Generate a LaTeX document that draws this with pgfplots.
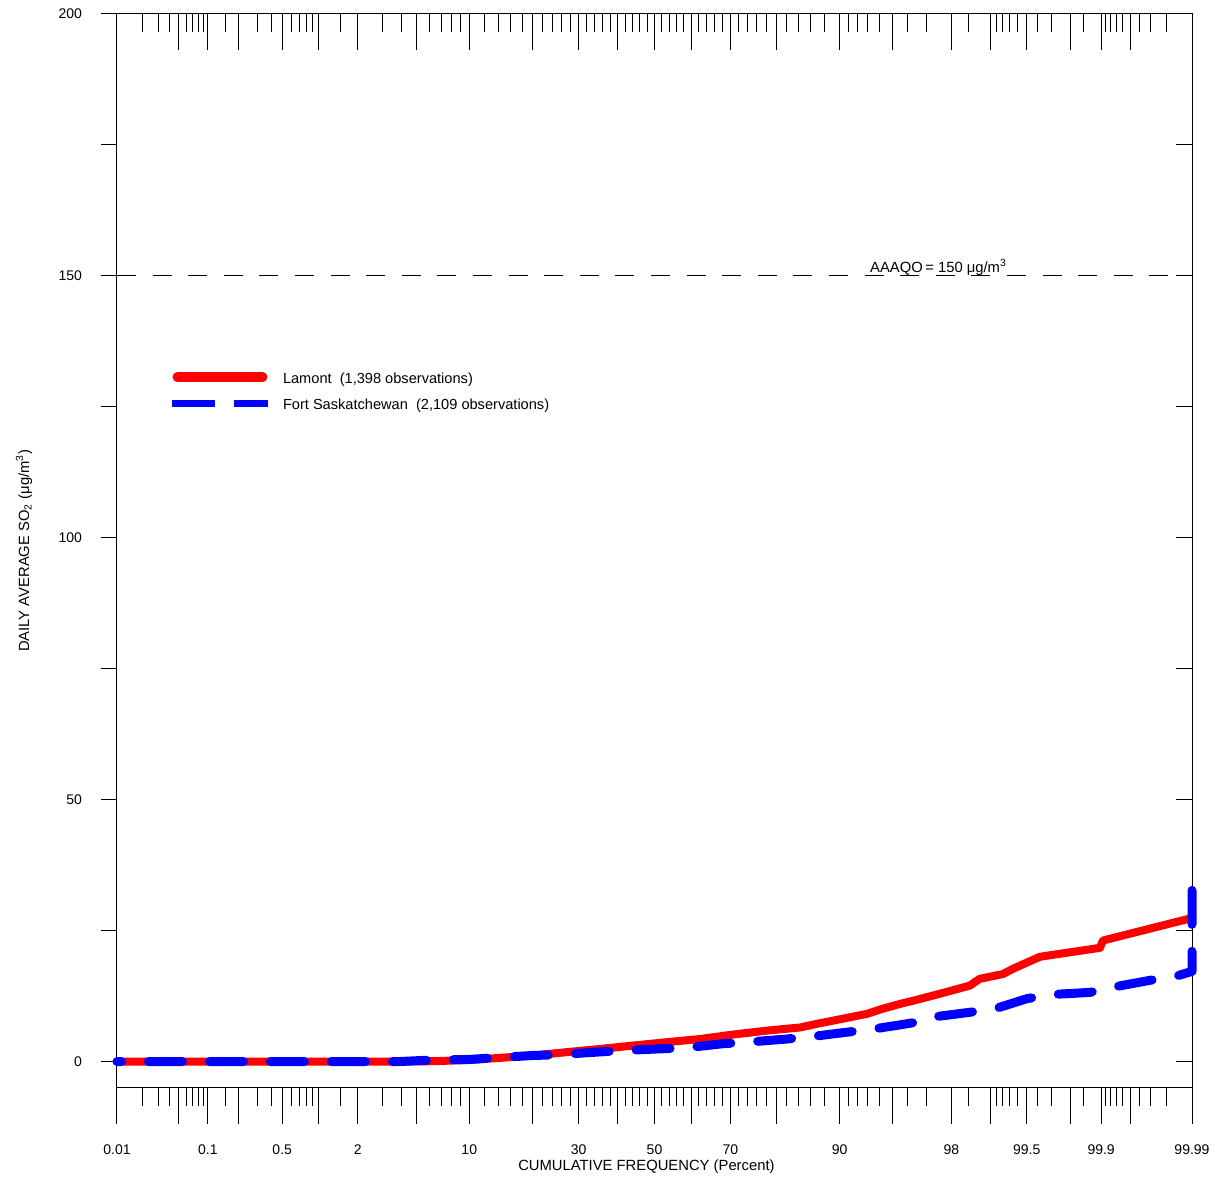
\documentclass[border=0pt]{standalone}
\usepackage{fontspec}
\setmainfont{Liberation Sans}
\usepackage{pgfplots}
\pgfplotsset{compat=1.18}

\def\majx{-3.7190,-3.2905,-3.0902,-2.8782,-2.5758,-2.3263,-2.0537,-1.6449,-1.2816,-0.8416,-0.5244,-0.2533,0,0.2533,0.5244,0.8416,1.2816,1.6449,2.0537,2.3263,2.5758,2.8782,3.0902,3.2905,3.7190}
\def\minx{-3.5401,-3.4316,-3.3528,-3.2389,-3.1947,-3.1559,-3.1214,-2.9677,-2.7478,-2.6521,-2.5121,-2.4573,-2.4089,-2.3656,-2.1701,-1.8808,-1.7507,-1.5548,-1.4758,-1.4051,-1.3408,-1.1750,-1.0803,-0.9945,-0.9154,-0.7722,-0.7063,-0.6433,-0.5828,-0.4677,-0.4125,-0.3585,-0.3055,-0.2019,-0.1510,-0.1004,-0.0502,0.0502,0.1004,0.1510,0.2019,0.3055,0.3585,0.4125,0.4677,0.5828,0.6433,0.7063,0.7722,0.9154,0.9945,1.0803,1.1750,1.3408,1.4051,1.4758,1.5548,1.7507,1.8808,2.1701,2.3656,2.4089,2.4573,2.5121,2.6521,2.7478,2.9677,3.1214,3.1559,3.1947,3.2389,3.3528,3.4316,3.5401}

\pgfplotsset{
  base/.style={
    scale only axis, width=537.5pt, height=537pt,
    xmin=-3.719, xmax=3.719, ymin=-5, ymax=200,
    axis line style={line width=0.5pt},
    every tick/.style={black, line width=0.5pt},
    ticklabel style={font=\fontsize{7}{8}\selectfont},
  },
  nobox/.style={axis line style={draw=none}},
}

\pgfplotstableread{
z v
-3.719 0
-2.799 0
-1.761 0
-1.533 0.06
-1.277 0.3
-1.069 0.7
-0.841 1.15
-0.605 1.8
-0.377 2.4
-0.149 3.05
0.086 3.7
0.315 4.3
0.543 5.15
0.778 5.9
1.007 6.5
1.124 7.2
1.235 7.8
1.470 9.1
1.581 10.1
1.699 11.0
1.789 11.6
1.955 12.8
2.183 14.5
2.218 15.2
2.252 15.8
2.411 16.7
2.480 17.7
2.667 20.0
3.082 21.7
3.103 23.1
3.705 27.3
3.719 27.4
}\lamont

\pgfplotstableread{
z v
-3.719 0
-1.761 0
-1.533 0.3
-1.277 0.4
-1.069 0.8
-0.841 1.15
-0.675 1.3
-0.398 1.8
-0.218 2.1
0.017 2.4
0.211 2.6
0.474 3.4
0.640 3.7
0.917 4.3
1.097 4.8
1.332 5.6
1.512 6.2
1.699 7.0
1.789 7.4
1.927 8.5
2.183 9.4
2.370 10.2
2.577 12.0
2.757 12.8
3.013 13.2
3.172 14.2
3.428 15.5
3.622 16.4
3.719 17.2
3.719 33.0
}\fortsask

\begin{document}
\begin{tikzpicture}
% top x ticks (inside)
\begin{axis}[base, nobox,
  xtick/.expand once=\majx, minor xtick/.expand once=\minx,
  xtick pos=right, tick align=inside,
  major tick length=18pt, minor tick length=9pt,
  xticklabel=\empty, ytick=\empty]
\end{axis}
% right y ticks (inside)
\begin{axis}[base, nobox,
  xtick=\empty, ytick={0,25,...,200}, yticklabel=\empty,
  ytick pos=right, tick align=inside, major tick length=8pt]
\end{axis}
% left y ticks (outside) with labels
\begin{axis}[base, nobox,
  xtick=\empty, ytick={0,25,...,200},
  yticklabels={0,{},50,{},100,{},150,{},200},
  yticklabel style={xshift=-6pt},
  ytick pos=left, tick align=outside, major tick length=8pt,
  every axis y label/.style={at={(axis description cs:0,0.5)}, xshift=-46.5pt, rotate=90, anchor=center, font=\fontsize{7.4}{9}\selectfont},
  ylabel={DAILY AVERAGE SO\textsubscript{2} (μg/m\textsuperscript{3})}]
\end{axis}
% main axis: bottom x ticks, data, legend
\begin{axis}[base, clip=false,
  xtick/.expand once=\majx, minor xtick/.expand once=\minx,
  xticklabels={0.01,{},0.1,{},0.5,{},2,{},10,{},30,{},50,{},70,{},90,{},98,{},99.5,{},99.9,{},99.99},
  xticklabel style={yshift=-7pt},
  xtick pos=left, tick align=outside,
  major tick length=18pt, minor tick length=9pt,
  ytick=\empty,
  every axis x label/.style={at={(axis description cs:0.4925,0)}, yshift=-39.5pt, anchor=center, font=\fontsize{7.4}{9}\selectfont},
  xlabel={CUMULATIVE FREQUENCY (Percent)},
  legend cell align=left,
  legend style={draw=none, fill=none, at={(axis description cs:0.0521,0.6644)}, anchor=north west,
    xshift=-2pt, yshift=1pt,
    inner sep=0pt, outer sep=0pt, row sep=7pt, column sep=6pt,
    nodes={inner sep=0pt, text height=5.2pt, text depth=0.8pt, font=\fontsize{7.3}{8.5}\selectfont}},
  ]
\addplot[black, line width=0.6pt, dash pattern=on 9.5pt off 8.3pt, forget plot]
  coordinates {(-3.719,150) (3.719,150)};
\addplot[red, line width=4pt, line cap=round, line join=round,
  legend image code/.code={\draw[red, line width=5pt, line cap=round] (2.5pt,0.8pt) -- (45pt,0.8pt);}]
  table[x=z, y=v] {\lamont};
\addlegendentry{Lamont\ \ (1,398 observations)}
\addplot[blue, line width=4.5pt, line cap=round, line join=round, dash pattern=on 17pt off 13.5pt, dash phase=14.8pt,
  legend image code/.code={\draw[blue, line width=3.5pt, line cap=butt, dash pattern=on 21.5pt off 9.5pt, dash phase=0pt] (0pt,0.8pt) -- (47.5pt,0.8pt);}]
  table[x=z, y=v] {\fortsask};
\addlegendentry{Fort Saskatchewan\ \ (2,109 observations)}
\node[anchor=base, font=\fontsize{7.4}{9}\selectfont] at (axis cs:1.965,150.57) {AAAQO\,= 150 μg/m\textsuperscript{3}};
\path (current axis.south west) ++(-58.5pt,-48.5pt) coordinate (bbA);
\path (current axis.north east) ++(16.5pt,6.5pt) coordinate (bbB);
\path (bbA) rectangle (bbB);
\end{axis}
\end{tikzpicture}
\end{document}
